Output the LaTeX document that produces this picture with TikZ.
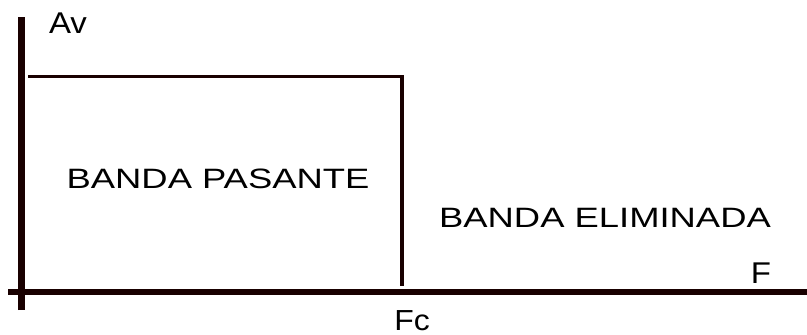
\documentclass[tikz,border=0pt]{standalone}
\usepackage{fontspec}
\setmainfont{Liberation Sans}
\begin{document}
\begin{tikzpicture}[x=1pt,y=-1pt,
  axis/.style={draw=black!90!red, line width=6.5pt},
  band/.style={draw=black!90!red, line width=3.5pt},
  bandlabel/.style={anchor=base, inner sep=0pt, xscale=1.3, font=\fontsize{28}{28}\selectfont},
  axislabel/.style={anchor=base, inner sep=0pt, xscale=1.1, font=\fontsize{30}{30}\selectfont}]
  \useasboundingbox (0,0) rectangle (807,335);
  % axes
  \coordinate (ytop) at (21.5,17);
  \coordinate (ybot) at (21.5,310);
  \coordinate (xleft) at (8,292);
  \coordinate (xright) at (807,292);
  \draw[axis, line width=7pt] (ybot) -- (ytop);
  \draw[axis] (xleft) -- (xright);
  % pass band outline
  \coordinate (pl) at (28,76.5);
  \coordinate (pc) at (402,76.5);
  \coordinate (pb) at (402,286);
  \draw[band] (pl) -- (pc) -- (pb);
  % labels
  \node[axislabel] (av) at (68,33) {Av};
  \node[axislabel] (f) at (761,283) {F};
  \node[axislabel, font=\fontsize{29}{29}\selectfont] (fc) at (412,330.5) {Fc};
  \node[bandlabel] (pas) at (218,188) {BANDA PASANTE};
  \node[bandlabel] (elim) at (605,227) {BANDA ELIMINADA};
\end{tikzpicture}
\end{document}
